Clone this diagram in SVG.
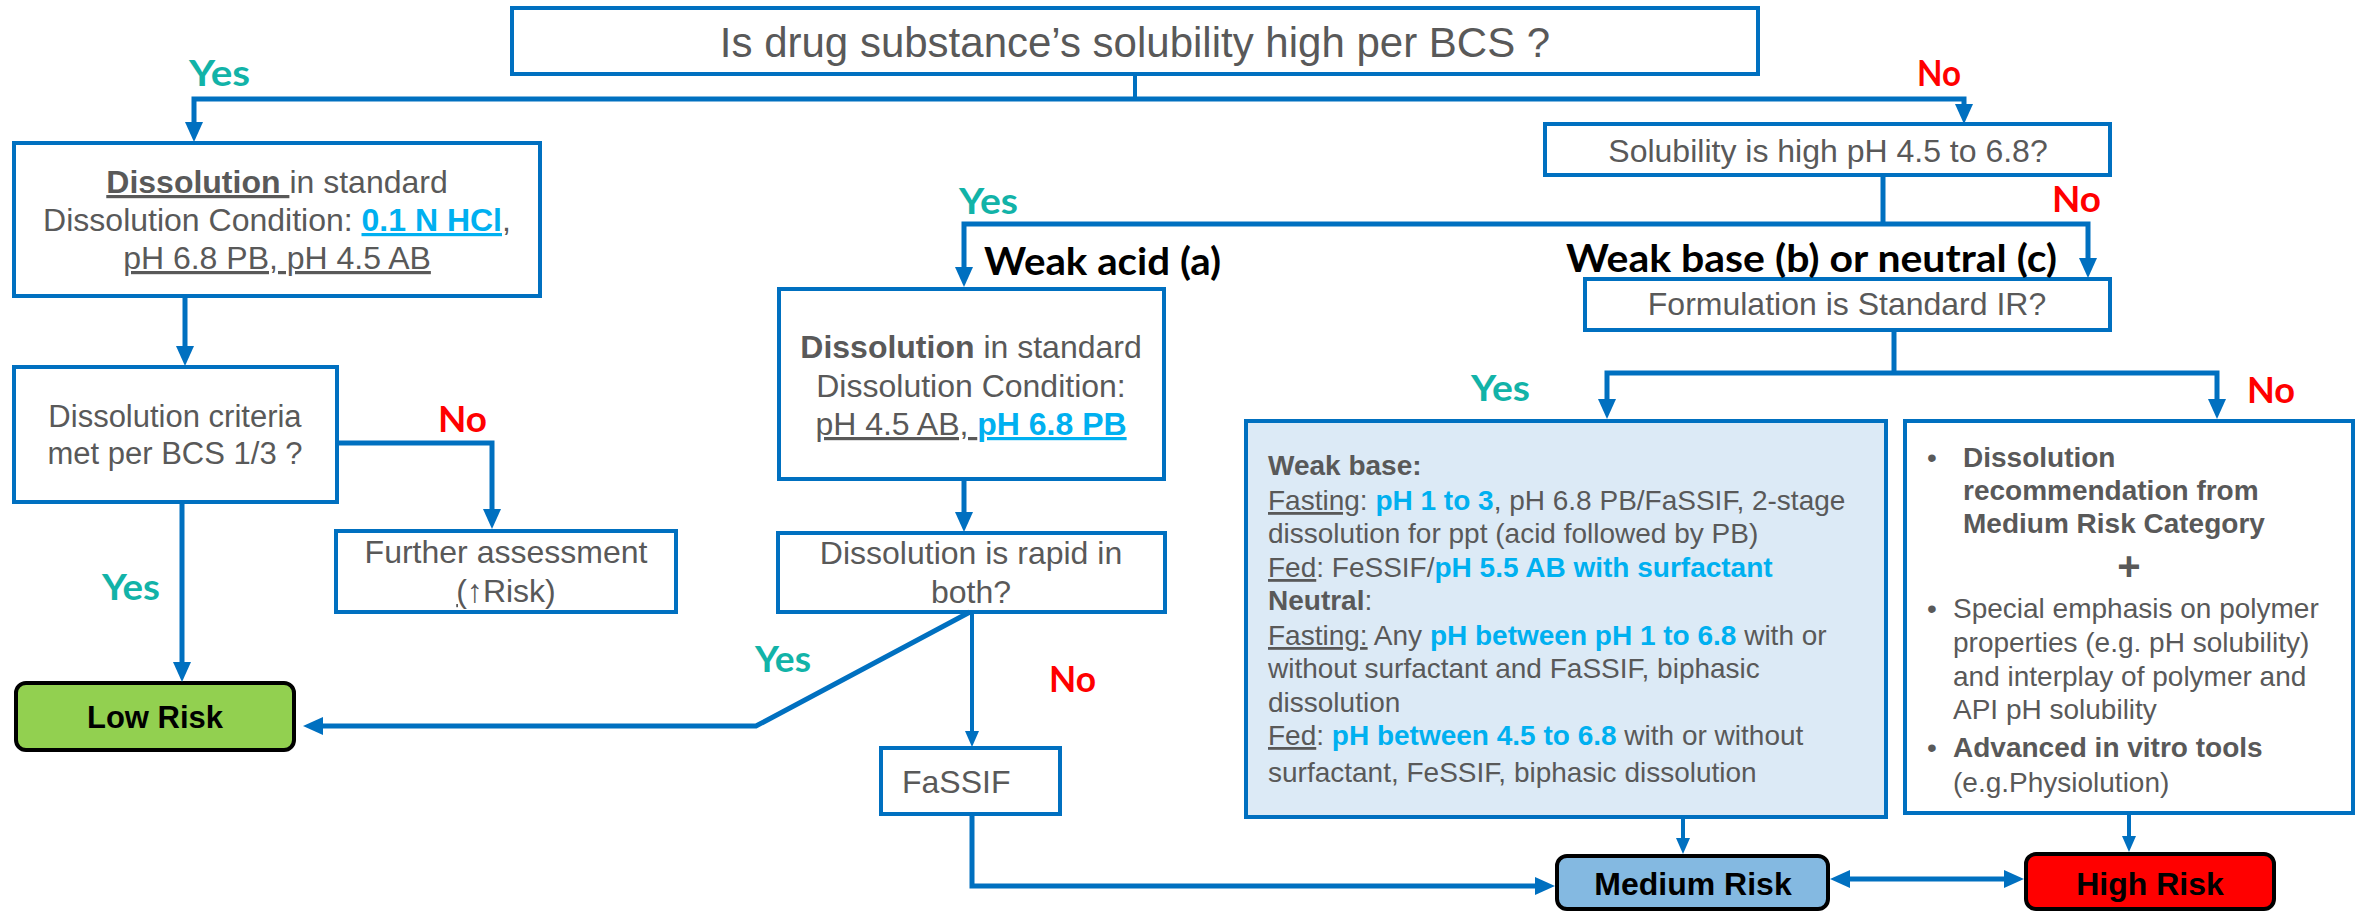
<svg xmlns="http://www.w3.org/2000/svg" width="2361" height="911" viewBox="0 0 2361 911">
<style>
.box{fill:#fff;stroke:#0070C0;stroke-width:4}
.t{font-family:"Liberation Sans",Arial,sans-serif;fill:#595959;font-size:32px}
.s{font-size:28px}
.b{font-weight:700}
.bl{fill:#00B0F0;font-weight:700}
.u{text-decoration:underline}
.c{fill:none;stroke:#0070C0;stroke-width:5}
.cs{fill:none;stroke:#0070C0;stroke-width:4}
.lab{font-family:Lato,"Open Sans",sans-serif;font-weight:700;font-size:36px}
.yes{fill:#12B3A8}
.no{fill:#FF0000}
.blk{fill:#000;font-size:38px}
.risk{stroke:#000;stroke-width:4}
.rt{font-family:"Liberation Sans",Arial,sans-serif;font-weight:700;fill:#000;font-size:32px}
</style>
<defs>
<marker id="ah" markerUnits="userSpaceOnUse" viewBox="0 0 20 18" markerWidth="20" markerHeight="18" refX="12" refY="9" orient="auto-start-reverse"><path d="M0,0 L20,9 L0,18 z" fill="#0070C0"/></marker>
<marker id="as" markerUnits="userSpaceOnUse" viewBox="0 0 16 14" markerWidth="16" markerHeight="14" refX="9" refY="7" orient="auto-start-reverse"><path d="M0,0 L16,7 L0,14 z" fill="#0070C0"/></marker>
</defs>
<rect width="2361" height="911" fill="#fff"/>

<g id="q-top">
<rect class="box" x="512" y="8" width="1246" height="66"/>
<text class="t" x="1135" y="57" text-anchor="middle" style="font-size:42px">Is drug substance’s solubility high per BCS ?</text>
</g>

<g id="box-dissolution-std">
<rect class="box" x="14" y="143" width="526" height="153"/>
<text class="t" x="277" y="193" text-anchor="middle"><tspan class="b u">Dissolution </tspan>in standard</text>
<text class="t" x="277" y="231" text-anchor="middle">Dissolution Condition: <tspan class="bl u">0.1 N HCl</tspan><tspan class="u">,</tspan></text>
<text class="t" x="277" y="269" text-anchor="middle"><tspan class="u">pH 6.8 PB, pH 4.5 AB</tspan></text>
</g>

<g id="box-criteria">
<rect class="box" x="14" y="367" width="323" height="135"/>
<text class="t" x="175" y="427" text-anchor="middle" style="font-size:31px">Dissolution criteria</text>
<text class="t" x="175" y="464" text-anchor="middle" style="font-size:31px">met per BCS 1/3 ?</text>
</g>

<g id="box-further">
<rect class="box" x="336" y="531" width="340" height="81"/>
<text class="t" x="506" y="563" text-anchor="middle">Further assessment</text>
<text class="t" x="506" y="602" text-anchor="middle"><tspan class="u">(</tspan>↑Risk)</text>
</g>

<g id="low-risk">
<rect class="risk" x="16" y="683" width="278" height="67" rx="10" fill="#92D050"/>
<text class="rt" x="155" y="728" text-anchor="middle" style="font-size:31px">Low Risk</text>
</g>

<g id="q-solubility-ph">
<rect class="box" x="1545" y="124" width="565" height="51"/>
<text class="t" x="1828" y="162" text-anchor="middle">Solubility is high pH 4.5 to 6.8?</text>
</g>

<g id="box-weak-acid">
<rect class="box" x="779" y="289" width="385" height="190"/>
<text class="t" x="971" y="358" text-anchor="middle"><tspan class="b">Dissolution</tspan> in standard</text>
<text class="t" x="971" y="397" text-anchor="middle">Dissolution Condition:</text>
<text class="t" x="971" y="435" text-anchor="middle"><tspan class="u">pH 4.5 AB, </tspan><tspan class="bl u">pH 6.8 PB</tspan></text>
</g>

<g id="q-rapid">
<rect class="box" x="778" y="533" width="387" height="79"/>
<text class="t" x="971" y="564" text-anchor="middle">Dissolution is rapid in</text>
<text class="t" x="971" y="603" text-anchor="middle">both?</text>
</g>

<g id="box-fassif">
<rect class="box" x="881" y="748" width="179" height="66"/>
<text class="t" x="902" y="793">FaSSIF</text>
</g>

<g id="q-formulation">
<rect class="box" x="1585" y="279" width="525" height="51"/>
<text class="t" x="1847" y="315" text-anchor="middle">Formulation is Standard IR?</text>
</g>

<g id="box-weak-base">
<rect x="1246" y="421" width="640" height="396" fill="#DCEAF6" stroke="#0070C0" stroke-width="4"/>
<text class="t s" x="1268" y="475"><tspan class="b">Weak base:</tspan></text>
<text class="t s" x="1268" y="510"><tspan class="u">Fasting</tspan>: <tspan class="bl">pH 1 to 3</tspan>, pH 6.8 PB/FaSSIF, 2-stage</text>
<text class="t s" x="1268" y="543">dissolution for ppt (acid followed by PB)</text>
<text class="t s" x="1268" y="577"><tspan class="u">Fed</tspan>: FeSSIF/<tspan class="bl">pH 5.5 AB with surfactant</tspan></text>
<text class="t s" x="1268" y="610"><tspan class="b">Neutral</tspan>:</text>
<text class="t s" x="1268" y="645"><tspan class="u">Fasting:</tspan> Any <tspan class="bl">pH between pH 1 to 6.8</tspan> with or</text>
<text class="t s" x="1268" y="678">without surfactant and FaSSIF, biphasic</text>
<text class="t s" x="1268" y="712">dissolution</text>
<text class="t s" x="1268" y="745"><tspan class="u">Fed</tspan>: <tspan class="bl">pH between 4.5 to 6.8</tspan> with or without</text>
<text class="t s" x="1268" y="782">surfactant, FeSSIF, biphasic dissolution</text>
</g>

<g id="box-non-standard">
<rect class="box" x="1905" y="421" width="448" height="392"/>
<text class="t s" x="1927" y="467">•</text>
<text class="t s b" x="1963" y="467">Dissolution</text>
<text class="t s b" x="1963" y="500">recommendation from</text>
<text class="t s b" x="1963" y="533">Medium Risk Category</text>
<text class="t b" x="2129" y="580" text-anchor="middle" style="font-size:40px">+</text>
<text class="t s" x="1927" y="618">•</text>
<text class="t s" x="1953" y="618">Special emphasis on polymer</text>
<text class="t s" x="1953" y="652">properties (e.g. pH solubility)</text>
<text class="t s" x="1953" y="686">and interplay of polymer and</text>
<text class="t s" x="1953" y="719">API pH solubility</text>
<text class="t s" x="1927" y="757">•</text>
<text class="t s b" x="1953" y="757">Advanced in vitro tools</text>
<text class="t s" x="1953" y="792">(e.g.Physiolution)</text>
</g>

<g id="medium-risk">
<rect class="risk" x="1557" y="856" width="271" height="53" rx="10" fill="#84B9E1"/>
<text class="rt" x="1693" y="895" text-anchor="middle">Medium Risk</text>
</g>

<g id="high-risk">
<rect class="risk" x="2026" y="854" width="248" height="55" rx="10" fill="#FF0000"/>
<text class="rt" x="2150" y="895" text-anchor="middle">High Risk</text>
</g>

<g id="labels">
<text class="lab yes" x="189" y="86" textLength="61" lengthAdjust="spacingAndGlyphs">Yes</text>
<text class="lab no" x="1917" y="86" textLength="44" lengthAdjust="spacingAndGlyphs">No</text>
<text class="lab no" x="438" y="432" textLength="49" lengthAdjust="spacingAndGlyphs">No</text>
<text class="lab yes" x="102" y="600" textLength="58" lengthAdjust="spacingAndGlyphs">Yes</text>
<text class="lab yes" x="959" y="214" textLength="59" lengthAdjust="spacingAndGlyphs">Yes</text>
<text class="lab no" x="2052" y="212" textLength="49" lengthAdjust="spacingAndGlyphs">No</text>
<text class="lab blk" x="984" y="275" textLength="237" lengthAdjust="spacingAndGlyphs">Weak acid (a)</text>
<text class="lab blk" x="1566" y="272" textLength="491" lengthAdjust="spacingAndGlyphs">Weak base (b) or neutral (c)</text>
<text class="lab yes" x="755" y="672" textLength="56" lengthAdjust="spacingAndGlyphs">Yes</text>
<text class="lab no" x="1049" y="692" textLength="47" lengthAdjust="spacingAndGlyphs">No</text>
<text class="lab yes" x="1471" y="401" textLength="59" lengthAdjust="spacingAndGlyphs">Yes</text>
<text class="lab no" x="2247" y="403" textLength="48" lengthAdjust="spacingAndGlyphs">No</text>
</g>

<g id="connectors">
<path class="cs" d="M1135,74 V99"/>
<path class="c" d="M1135,99 H194 V134" marker-end="url(#ah)"/>
<path class="c" d="M1135,99 H1964 V116" marker-end="url(#ah)"/>
<path class="c" d="M185,296 V358" marker-end="url(#ah)"/>
<path class="c" d="M339,443 H492 V521" marker-end="url(#ah)"/>
<path class="c" d="M182,502 V674" marker-end="url(#ah)"/>
<path class="c" d="M1883,175 V224"/>
<path class="c" d="M1883,224 H964 V279" marker-end="url(#ah)"/>
<path class="c" d="M1883,224 H2088 V270" marker-end="url(#ah)"/>
<path class="c" d="M964,479 V524" marker-end="url(#ah)"/>
<path class="c" d="M970,612 L756,726 H311" marker-end="url(#ah)"/>
<path class="cs" d="M972,612 V740" marker-end="url(#as)"/>
<path class="c" d="M972,814 V886 H1547" marker-end="url(#ah)"/>
<path class="c" d="M1894,330 V373"/>
<path class="c" d="M1894,373 H1607 V411" marker-end="url(#ah)"/>
<path class="c" d="M1894,373 H2217 V411" marker-end="url(#ah)"/>
<path class="cs" d="M1683,817 V847" marker-end="url(#as)"/>
<path class="cs" d="M2129,813 V845" marker-end="url(#as)"/>
<path class="c" d="M1838,879 H2016" marker-start="url(#ah)" marker-end="url(#ah)"/>
</g>
</svg>
